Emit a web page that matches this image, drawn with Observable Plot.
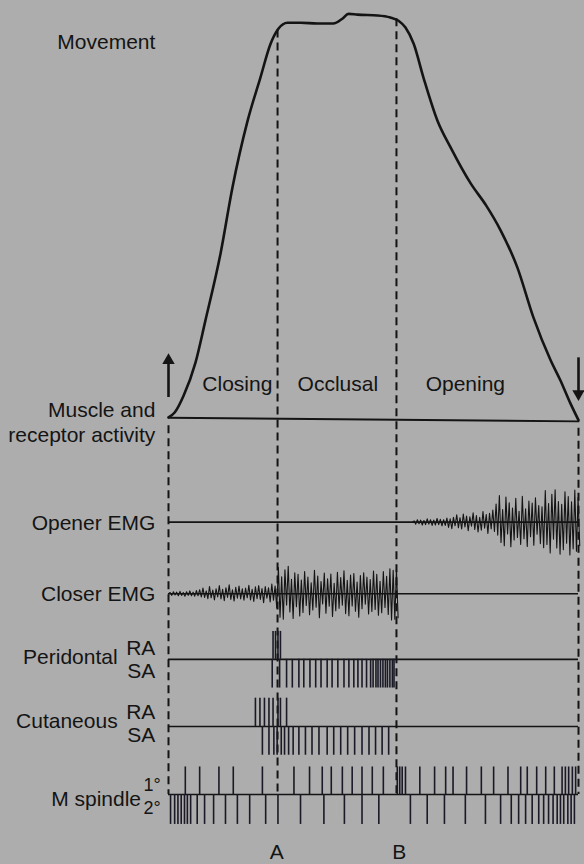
<!DOCTYPE html>
<html><head><meta charset="utf-8">
<script src="https://cdn.jsdelivr.net/npm/d3@7"></script>
<script src="https://cdn.jsdelivr.net/npm/@observablehq/plot@0.6"></script>
<style>
html,body{margin:0;padding:0;background:#adadad;}
#chart{width:584px;height:864px;overflow:hidden;}
</style></head><body><div id="chart"></div>
<script>
// x: percent of the chewing cycle (0 = start of closing, 100 = end of opening)
// y: jaw movement (0 = rest, 100 = maximal excursion); tracks sit below 0
const movementT = [0,1.5,3.7,6.6,9.0,12.7,15.6,19.3,22.4,24.9,26.8,29.0,32.2,36.3,40.2,42.4,43.9,46.1,51.0,54.1,56.1,57.8,59.8,62.2,65.6,68.8,73.7,77.5,81.0,85.1,89.0,93.2,95.6,98.0,100];
const movementV = [0.5,1.7,5.9,14.1,24.4,41.0,57.3,73.8,84.4,92.8,96.5,98.0,98.0,97.8,97.8,99.0,100.2,100.0,99.8,99.3,98.5,96.8,92.8,84.4,73.8,67.2,58.3,52.8,46.7,37.5,25.2,14.6,9.6,4.0,-0.2];
const restT = [0, 100];
const restV = [0.4, -0.5];

const phaseNames = ["Closing", "Occlusal", "Opening"];
const phaseCentres = [16.8, 41.3, 72.4];
const eventNames = ["A", "B"];
const eventT = [26.6, 55.6];
const eventLabelT = [26.4, 56.3];

const trackNames = ["Opener EMG", "Closer EMG", "Peridontal", "Cutaneous", "M spindle"];
const trackBase = [-25.4, -43.1, -59.3, -75.9, -92.7];

// EMG samples (signed deflections), one every 0.4 % of the cycle
const closerStart = 0;
const closerEMG = [0.3,-0.4,0.5,-0.3,0.4,-0.5,0.6,-0.4,0.3,-0.6,0.5,-0.4,0.7,-0.5,0.4,-0.6,0.8,-0.5,
 1.0,-0.8,1.4,-0.9,0.7,-1.2,1.8,-1.0,0.9,-1.5,1.2,-0.8,2.0,-1.3,1.1,-1.7,1.5,-0.9,2.2,-1.4,1.0,-1.8,1.6,-1.1,1.9,-1.3,1.2,
 -1.6,1.4,-1.0,2.1,-1.5,1.1,-1.9,1.7,-1.2,2.0,-1.4,1.3,-2.2,1.8,-1.1,1.5,-2.0,2.4,-1.6,1.9,
 -3.5,6.5,-5.8,4.2,-6.3,5.9,-2.8,6.8,-4.5,3.6,-6.1,5.2,-3.2,4.8,-5.5,
 3.4,-4.6,5.5,-2.9,4.1,-5.2,2.7,-4.0,5.8,-3.3,4.4,-5.9,3.0,-2.5,5.1,-4.8,3.7,-3.1,4.9,-5.6,2.6,-4.2,5.3,-3.6,4.0,-2.8,5.7,-4.9,3.3,-5.4,4.6,-3.0,5.0,-4.3,2.9,-5.8,4.5,-3.7,5.2,-2.6,4.1,-5.0,3.5,-4.4,5.6,-3.9,4.8,-5.3,3.1,-4.7,5.5,-3.4,4.3,-5.1,
 6.2,-6.5,5.8,-6.3,6.0,-5.9];
const openerStart = 59.5;
const openerEMG = [0.3,-0.5,0.6,-0.4,0.5,-0.7,0.4,-0.6,0.8,-0.5,0.6,-0.8,0.5,-0.7,0.9,-0.6,0.7,-0.9,0.6,-0.8,
 1.0,-1.3,0.8,-1.6,1.2,-0.9,1.8,-1.4,1.1,-1.7,2.0,-1.2,1.5,-2.1,1.3,-1.0,2.3,-1.8,1.6,-2.4,1.2,-2.0,2.6,-1.5,1.9,-2.8,2.2,-1.7,3.0,-2.3,
 4.5,-3.2,6.6,-5.0,3.1,-5.8,6.2,-2.9,4.8,-6.1,3.5,-4.4,5.9,-3.8,2.7,-5.5,6.4,-4.1,3.3,-6.0,5.2,-3.6,4.7,-5.7,6.0,-3.0,4.1,-5.3,3.8,-6.3,
 7.8,-5.5,4.6,-7.6,6.9,-4.2,8.0,-6.4,5.1,-7.9,4.4,-6.8,7.5,-5.2,6.3,-8.1,5.0,-6.6,7.9,-7.2,6.1,-5.8];

// Receptor discharges (times of spikes, % of cycle)
const perioRA = [25.5,26.1,26.7,27.3];
const perioSA = [25.3,27.1,28.8,30.2,31.8,33.0,34.5,35.9,37.2,38.7,39.9,41.3,42.8,44.0,45.2,46.2,47.2,48.3,49.3,49.9,50.6,51.1,51.7,52.3,52.9,53.4,54.0,54.6,55.0];
const cutRA = [21.2,22.3,23.4,24.5,25.5,26.7,27.3,28.8];
const cutSA = [22.9,24.5,25.7,26.5,27.5,28.3,29.3,30.4,31.8,33.4,35.0,36.7,38.7,40.3,42.0,43.7,45.4,47.2,48.9,50.5,52.1,53.7];
const spindle1 = [4.1,7.6,12.3,15.8,22.9,30.6,34.4,37.5,39.7,42.4,44.8,47.2,49.7,52.4,55.8,56.4,57.0,57.8,61.3,64.9,67.6,69.4,72.7,76.3,79.3,82.8,85.9,87.5,89.8,92.0,94.1,96.0,96.8,97.6,98.5,99.3];
const spindle2 = [0.5,1.5,2.3,3.1,3.9,4.6,5.4,7.0,8.8,11.0,13.9,16.8,19.8,23.7,26.7,32.2,37.9,42.9,47.2,51.3,59.0,63.1,67.3,72.4,77.3,81.0,83.6,85.4,87.1,88.7,90.3,91.5,92.7,93.8,94.8,95.6,96.4,97.4,98.2,99.0];

const unitNames = ["RA", "SA", "RA", "SA", "1°", "2°"];

// ---- build tables ----
const ink = "#141414";
const font = "'Liberation Sans', Arial, Helvetica, sans-serif";
const movement = movementT.map((t, i) => ({t, v: movementV[i]}));
const rest = restT.map((t, i) => ({t, v: restV[i]}));
const STEP = 0.4;
const emg = (start, arr, base) => [{t: start, v: base}, ...arr.map((d, i) => ({t: start + STEP * (i + 1), v: base + d}))];
const closer = emg(closerStart, closerEMG, trackBase[1]);
const opener = emg(openerStart, openerEMG, trackBase[0]);

const spikes = [];
const addSpikes = (arr, base, len) => arr.forEach(t => spikes.push({t, y1: base, y2: base + len}));
addSpikes(perioRA, trackBase[2], 6.9);
addSpikes(perioSA, trackBase[2], -7.1);
addSpikes(cutRA, trackBase[3], 7.0);
addSpikes(cutSA, trackBase[3], -7.1);
addSpikes(spindle1, trackBase[4], 6.8);
addSpikes(spindle2, trackBase[4], -7.4);

const bottom = trackBase[4];
const dashed = [
  {t: 0, y1: -1.6, y2: bottom},
  {t: eventT[0], y1: 96.2, y2: bottom},
  {t: eventT[1], y1: 99.0, y2: bottom},
  {t: 100, y1: -2.2, y2: bottom}
];

const leftLabels = [
  {t: -3.2, v: 93.2, s: "Movement"},
  {t: -3.2, v: 2.2, s: "Muscle and"},
  {t: -3.2, v: -4.0, s: "receptor activity"},
  {t: -3.2, v: -25.8, s: trackNames[0]},
  {t: -3.2, v: -43.1, s: trackNames[1]},
  {t: -12.4, v: -58.9, s: trackNames[2]},
  {t: -12.4, v: -74.7, s: trackNames[3]},
  {t: -6.7, v: -93.9, s: trackNames[4]},
  {t: -3.2, v: -56.6, s: unitNames[0]},
  {t: -3.2, v: -62.2, s: unitNames[1]},
  {t: -3.2, v: -72.3, s: unitNames[2]},
  {t: -3.2, v: -78.0, s: unitNames[3]}
];
const spindleUnits = [
  {t: -1.9, v: -90.4, s: unitNames[4]},
  {t: -1.9, v: -96.2, s: unitNames[5]}
];
const phaseLabels = phaseNames.map((s, i) => ({t: phaseCentres[i], v: 8.6, s}));
const eventLabels = eventNames.map((s, i) => ({t: eventLabelT[i], v: -107.1, s}));

const chart = Plot.plot({
  width: 584, height: 864,
  marginLeft: 168, marginRight: 6, marginTop: 0, marginBottom: 0,
  x: {domain: [0, 100], axis: null},
  y: {domain: [-110, 103.5], axis: null},
  style: {background: "#adadad", fontFamily: font},
  marks: [
    Plot.ruleX(dashed, {x: "t", y1: "y1", y2: "y2", stroke: ink, strokeWidth: 2, strokeDasharray: "8,5"}),
    Plot.line(rest, {x: "t", y: "v", stroke: ink, strokeWidth: 1.8}),
    Plot.line(movement, {x: "t", y: "v", curve: "monotone-x", stroke: ink, strokeWidth: 2.6}),
    Plot.ruleY(trackBase, {y: d => d, x1: 0, x2: 100, stroke: ink, strokeWidth: 1.6}),
    Plot.line(closer, {x: "t", y: "v", stroke: ink, strokeWidth: 1.1}),
    Plot.line(opener, {x: "t", y: "v", stroke: ink, strokeWidth: 1.1}),
    Plot.ruleX(spikes, {x: "t", y1: "y1", y2: "y2", stroke: "#1a1a26", strokeWidth: 1.6}),
    // arrows
    Plot.ruleX([0], {x: d => d, y1: 5.4, y2: 14.2, stroke: ink, strokeWidth: 2.6}),
    Plot.dot([0], {x: d => d, y: 16.3, dy: 7, symbol: "triangle", r: 4.6, fill: ink, stroke: "none"}),
    Plot.ruleX([100], {x: d => d, y1: 15.2, y2: 6.6, stroke: ink, strokeWidth: 2.6}),
    Plot.dot([100], {x: d => d, y: 4.6, dy: -7, rotate: 180, symbol: "triangle", r: 4.6, fill: ink, stroke: "none"}),
    // text
    Plot.text(leftLabels, {x: "t", y: "v", text: "s", textAnchor: "end", fontSize: 21, fill: ink}),
    Plot.text(spindleUnits, {x: "t", y: "v", text: "s", textAnchor: "end", fontSize: 18, fill: ink}),
    Plot.text(phaseLabels, {x: "t", y: "v", text: "s", textAnchor: "middle", fontSize: 21, fill: ink}),
    Plot.text(eventLabels, {x: "t", y: "v", text: "s", textAnchor: "middle", fontSize: 21, fill: ink})
  ]
});
document.getElementById("chart").appendChild(chart);
</script>
</body></html>
